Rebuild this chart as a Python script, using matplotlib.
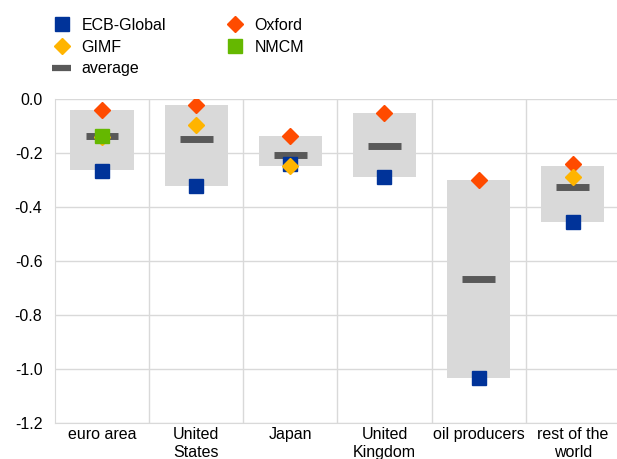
import numpy as np
import matplotlib
matplotlib.use("Agg")
import matplotlib.pyplot as plt
from matplotlib.lines import Line2D

plt.rcParams["font.family"] = ["Liberation Sans", "DejaVu Sans"]

categories = ["euro area", "United\nStates", "Japan", "United\nKingdom", "oil producers", "rest of the\nworld"]
range_top = [-0.040, -0.022, -0.137, -0.053, -0.300, -0.246]
range_bottom = [-0.263, -0.322, -0.248, -0.290, -1.033, -0.454]
average = [-0.137, -0.148, -0.208, -0.172, -0.667, -0.327]
ecb_global = [-0.267, -0.322, -0.240, -0.289, -1.033, -0.454]
oxford = [-0.040, -0.020, -0.136, -0.053, -0.300, -0.241]
gimf_idx = [0, 1, 2, 5]
gimf = [-0.142, -0.097, -0.248, -0.290]
nmcm_idx = [0]
nmcm = [-0.135]
yticks = [-1.2, -1.0, -0.8, -0.6, -0.4, -0.2, 0.0]
ytick_labels = ["-1.2", "-1.0", "-0.8", "-0.6", "-0.4", "-0.2", "0.0"]

C_BOX = "#d9d9d9"
C_AVG = "#595959"
C_ECB = "#003399"
C_OXF = "#ff4b00"
C_GIMF = "#ffb400"
C_NMCM = "#65b800"

x = np.arange(len(categories))

fig = plt.figure(figsize=(6.17, 4.59), dpi=100)
ax = fig.add_axes([0.089, 0.078, 0.911, 0.706])

ax.bar(x, np.array(range_top) - np.array(range_bottom), bottom=range_bottom,
       width=0.67, color=C_BOX, zorder=2)
ax.hlines(average, x - 0.175, x + 0.175, color=C_AVG, linewidth=5, zorder=3)
ax.plot(x, ecb_global, "s", color=C_ECB, markersize=10, linestyle="none", zorder=4)
ax.plot(x, oxford, "D", color=C_OXF, markersize=8, linestyle="none", zorder=5)
ax.plot(x[gimf_idx], gimf, "D", color=C_GIMF, markersize=8, linestyle="none", zorder=6)
ax.plot(x[nmcm_idx], nmcm, "s", color=C_NMCM, markersize=10, linestyle="none", zorder=7)

ax.set_xlim(-0.5, 5.47)
ax.set_ylim(-1.2, 0.0)
ax.set_yticks(yticks)
ax.set_yticklabels(ytick_labels)
ax.set_xticks(x)
ax.set_xticklabels(categories)
ax.set_xticks(np.arange(0.5, 5.5, 1.0), minor=True)
ax.tick_params(axis="both", which="both", length=0, labelsize=11.5, colors="black")
ax.tick_params(axis="y", pad=9)
ax.tick_params(axis="x", pad=3)
ax.grid(True, axis="y", color=C_BOX, linewidth=1, zorder=0)
ax.grid(True, axis="x", which="minor", color=C_BOX, linewidth=1, zorder=0)
ax.set_axisbelow(True)
for side in ["top", "right"]:
    ax.spines[side].set_visible(False)
for side in ["left", "bottom"]:
    ax.spines[side].set_color(C_BOX)

handles = [
    Line2D([], [], marker="s", color=C_ECB, linestyle="none", markersize=10),
    Line2D([], [], marker="D", color=C_GIMF, linestyle="none", markersize=8),
    Line2D([], [], color=C_AVG, linewidth=4.5, solid_capstyle="butt"),
    Line2D([], [], marker="D", color=C_OXF, linestyle="none", markersize=8),
    Line2D([], [], marker="s", color=C_NMCM, linestyle="none", markersize=10),
]
labels = ["ECB-Global", "GIMF", "average", "Oxford", "NMCM"]
fig.legend(handles, labels, ncol=2, loc="upper left", bbox_to_anchor=(0.074, 0.975),
           frameon=False, fontsize=11.5, handlelength=1.2, handletextpad=0.65,
           columnspacing=3.7, labelspacing=0.42, borderaxespad=0)

plt.savefig("out.png", dpi=100)
